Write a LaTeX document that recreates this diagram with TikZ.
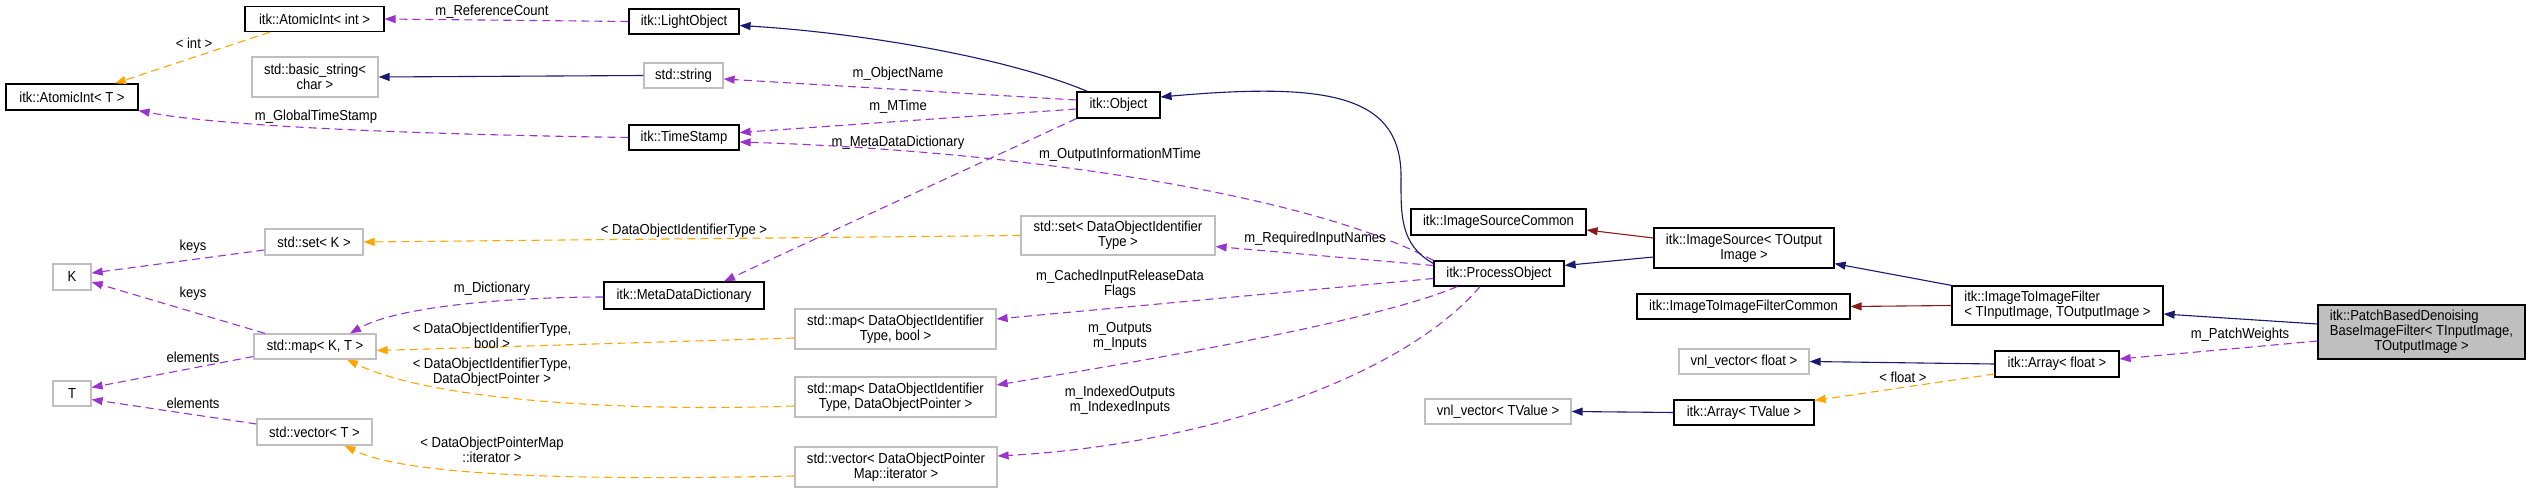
\documentclass[tikz,border=0pt]{standalone}
\usepackage{fontspec}
\setmainfont{Liberation Sans}[FakeStretch=0.9]
\usetikzlibrary{arrows.meta}
\definecolor{navy}{HTML}{191970}
\definecolor{purp}{HTML}{9A32CD}
\definecolor{orng}{HTML}{FFA500}
\definecolor{dred}{HTML}{8B1A1A}
\definecolor{grayb}{HTML}{BFBFBF}
\tikzset{
  box/.style={draw=black, line width=1.2pt, inner sep=0pt, align=center, font=\fontsize{14.5}{15}\selectfont},
  gbox/.style={box, draw=grayb},
  lab/.style={inner sep=0pt, align=center, font=\fontsize{14.5}{15}\selectfont},
  tip/.style={-{Triangle[length=11pt,width=8pt]}},
  inh/.style={tip, draw=navy, line width=1.1pt},
  ired/.style={tip, draw=dred, line width=1.1pt},
  use/.style={tip, draw=purp, line width=1.1pt, dash pattern=on 8pt off 5pt},
  tmpl/.style={tip, draw=orng, line width=1.1pt, dash pattern=on 8pt off 5pt},
}
\begin{document}
\begin{tikzpicture}[x=1pt,y=-1pt]
\useasboundingbox (0,0) rectangle (2531,492);
% nodes
\node[box, minimum width=139pt, minimum height=25pt] (aiint) at (314.5,19) {itk::AtomicInt< int >};
\node[box, minimum width=110pt, minimum height=25pt] (light) at (684,21.5) {itk::LightObject};
\node[gbox, minimum width=126pt, minimum height=40pt] (bstr) at (315,77) {std::basic\_string<\\char >};
\node[gbox, minimum width=79pt, minimum height=25pt] (str) at (683.5,75.5) {std::string};
\node[box, minimum width=132pt, minimum height=26pt] (ait) at (72,97) {itk::AtomicInt< T >};
\node[box, minimum width=110pt, minimum height=25pt] (ts) at (684,137.5) {itk::TimeStamp};
\node[gbox, minimum width=98pt, minimum height=26pt] (setk) at (314,242) {std::set< K >};
\node[gbox, minimum width=38pt, minimum height=26pt] (K) at (72,277) {K};
\node[box, minimum width=160pt, minimum height=27pt] (mdd) at (684,295.5) {itk::MetaDataDictionary};
\node[gbox, minimum width=122pt, minimum height=25pt] (mapkt) at (315,346.5) {std::map< K, T >};
\node[gbox, minimum width=38pt, minimum height=25pt] (T) at (72,393.5) {T};
\node[gbox, minimum width=115pt, minimum height=26pt] (vect) at (314.5,432) {std::vector< T >};
\node[box, minimum width=83pt, minimum height=26pt] (obj) at (1118.5,105) {itk::Object};
\node[gbox, minimum width=194pt, minimum height=39pt] (setdo) at (1118,235.5) {std::set< DataObjectIdentifier\\Type >};
\node[box, minimum width=130pt, minimum height=25pt] (po) at (1499,273.5) {itk::ProcessObject};
\node[gbox, minimum width=201pt, minimum height=40pt] (mapb) at (895.5,329) {std::map< DataObjectIdentifier\\Type, bool >};
\node[gbox, minimum width=201pt, minimum height=40pt] (mapp) at (895.5,397) {std::map< DataObjectIdentifier\\Type, DataObjectPointer >};
\node[gbox, minimum width=202pt, minimum height=40pt] (vecit) at (896,467) {std::vector< DataObjectPointer\\Map::iterator >};
\node[gbox, minimum width=146pt, minimum height=25pt] (vnlt) at (1498,411.5) {vnl\_vector< TValue >};
\node[box, minimum width=175pt, minimum height=26pt] (isc) at (1498.5,222) {itk::ImageSourceCommon};
\node[box, minimum width=180pt, minimum height=40pt] (is) at (1744,248) {itk::ImageSource< TOutput\\Image >};
\node[box, minimum width=213pt, minimum height=25pt] (itifc) at (1743.5,306.5) {itk::ImageToImageFilterCommon};
\node[box, minimum width=211pt, minimum height=39pt] (itif) at (2057.5,305.5) {\makebox[0pt][l]{itk::ImageToImageFilter}\phantom{< TInputImage, TOutputImage >}\\< TInputImage, TOutputImage >};
\node[box, fill=grayb, minimum width=207pt, minimum height=54pt] (pbd) at (2421.5,332) {\makebox[0pt][l]{itk::PatchBasedDenoising}\phantom{BaseImageFilter< TInputImage,}\\BaseImageFilter< TInputImage,\\TOutputImage >};
\node[gbox, minimum width=130pt, minimum height=25pt] (vnlf) at (1744,361.5) {vnl\_vector< float >};
\node[box, minimum width=124pt, minimum height=26pt] (af) at (2057,364) {itk::Array< float >};
\node[box, minimum width=140pt, minimum height=25pt] (at) at (1744,412.5) {itk::Array< TValue >};
% edges
\draw[use] (light.west) -- (aiint.east);
\draw[tmpl] ([xshift=-44.5pt]aiint.south) -- ([xshift=43pt]ait.north);
\draw[inh] (str.west) -- (bstr.east);
\draw[use] ([yshift=5pt]obj.west) -- ([yshift=-3.5pt]str.east);
\draw[inh] ([xshift=-31pt]obj.north) .. controls (1000,55) and (850,32) .. ([yshift=-4pt]light.east);
\draw[use] ([yshift=-4pt]obj.west) -- ([yshift=5pt]ts.east);
\draw[use] (po.north west) .. controls (1300,190) and (1000,150) .. ([yshift=-4.5pt]ts.east);
\draw[use] (ts.west) .. controls (400,134) and (220,126) .. (ait.south east);
\draw[use] (obj.south west) .. controls (900,200) and (780,255) .. ([xshift=40pt]mdd.north);
\draw[use] ([yshift=-1.5pt]mdd.west) .. controls (520,297) and (400,305) .. ([xshift=35pt]mapkt.north);
\draw[use] ([yshift=-8pt]setk.west) -- ([yshift=4pt]K.east);
\draw[use] ([xshift=-50pt]mapkt.north) -- ([yshift=-5pt]K.east);
\draw[use] ([yshift=-10pt]mapkt.west) -- ([yshift=6pt]T.east);
\draw[use] ([yshift=8pt]vect.west) -- ([yshift=-6pt]T.east);
\draw[tmpl] (setdo.west) -- (setk.east);
\draw[tmpl] ([yshift=-9pt]mapb.west) -- ([yshift=-4pt]mapkt.east);
\draw[tmpl] ([yshift=-9pt]mapp.west) .. controls (620,412) and (430,400) .. ([xshift=32pt]mapkt.south);
\draw[tmpl] ([yshift=-9pt]vecit.west) .. controls (600,480) and (410,478) .. ([xshift=30pt]vect.south);
\draw[use] ([yshift=8pt]po.west) -- ([yshift=-11pt]setdo.east);
\draw[use] ([yshift=-5pt]po.west) -- ([yshift=10pt]mapb.east);
\draw[use] ([xshift=-42pt]po.south) .. controls (1380,320) and (1150,360) .. ([yshift=12pt]mapp.east);
\draw[use] ([xshift=-19pt]po.south) .. controls (1400,380) and (1200,445) .. ([yshift=11pt]vecit.east);
\draw[inh] ([yshift=10pt]po.west) .. controls (1400,245) and (1401,215) .. (1401,180) .. controls (1403,95) and (1330,82) .. ([yshift=8pt]obj.east);
\draw[ired] ([yshift=10pt]is.west) -- ([yshift=-8pt]isc.east);
\draw[inh] ([yshift=-9pt]is.west) -- ([yshift=8pt]po.east);
\draw[inh] (itif.north west) -- ([yshift=5pt]is.south east);
\draw[ired] (itif.west) -- (itifc.east);
\draw[inh] ([yshift=8pt]pbd.west) -- ([yshift=-8.5pt]itif.east);
\draw[use] ([yshift=-9pt]pbd.west) -- ([yshift=5pt]af.east);
\draw[inh] (af.west) -- (vnlf.east);
\draw[tmpl] ([yshift=-10pt]af.west) -- ([yshift=12pt]at.east);
\draw[inh] (at.west) -- (vnlt.east);
% labels
\node[lab] at (492,12) {m\_ReferenceCount};
\node[lab] at (194,43) {< int >};
\node[lab] at (316,117) {m\_GlobalTimeStamp};
\node[lab] at (898,74) {m\_ObjectName};
\node[lab] at (898,107) {m\_MTime};
\node[lab] at (898,143) {m\_MetaDataDictionary};
\node[lab] at (1120,155) {m\_OutputInformationMTime};
\node[lab] at (684,231) {< DataObjectIdentifierType >};
\node[lab] at (193,247) {keys};
\node[lab] at (193,294) {keys};
\node[lab] at (492,289) {m\_Dictionary};
\node[lab] at (492,336) {< DataObjectIdentifierType,\\bool >};
\node[lab] at (492,372) {< DataObjectIdentifierType,\\DataObjectPointer >};
\node[lab] at (193,357) {elements};
\node[lab] at (193,403) {elements};
\node[lab] at (492,450) {< DataObjectPointerMap\\::iterator >};
\node[lab] at (1315,239) {m\_RequiredInputNames};
\node[lab] at (1120,284) {m\_CachedInputReleaseData\\Flags};
\node[lab] at (1120,336) {m\_Outputs\\m\_Inputs};
\node[lab] at (1120,400) {m\_IndexedOutputs\\m\_IndexedInputs};
\node[lab] at (2240,335) {m\_PatchWeights};
\node[lab] at (1903,377) {< float >};
\end{tikzpicture}
\end{document}
